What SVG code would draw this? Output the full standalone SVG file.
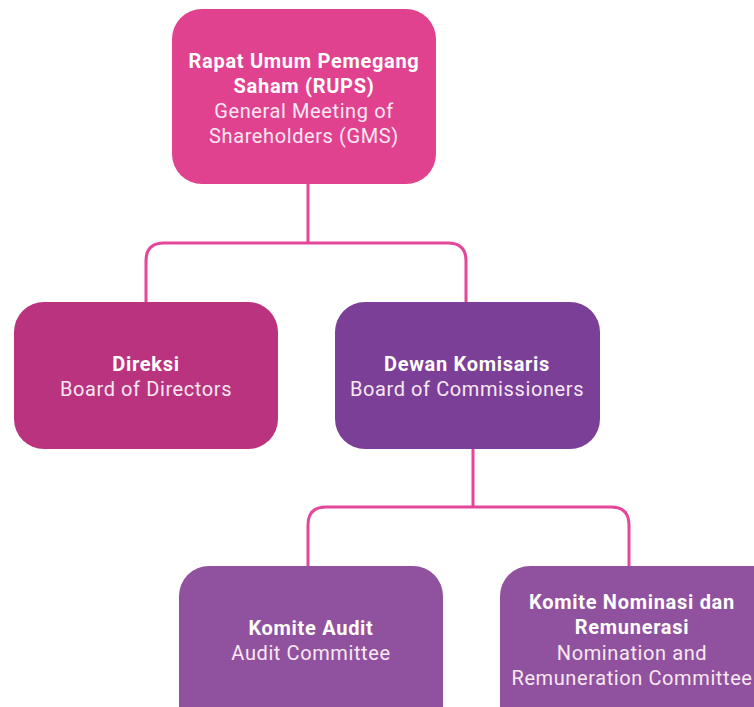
<svg xmlns="http://www.w3.org/2000/svg" width="754" height="707" viewBox="0 0 754 707">
<style>
.t{font-family:Roboto,"Liberation Sans",sans-serif;font-size:20px;text-anchor:middle}
.b{font-weight:bold;fill:#ffffff;letter-spacing:0.7px}
.r{fill:#f8e8f2;letter-spacing:0.6px}
.c{fill:none;stroke:#E4479A;stroke-width:3}
</style>
<rect width="754" height="707" fill="#ffffff"/>
<g id="connectors">
<path class="c" d="M308 184 V243 M146 303 V261 Q146 243 164 243 H448 Q466 243 466 261 V303"/>
<path class="c" d="M473 449 V507 M308 567 V525 Q308 507 326 507 H611 Q629 507 629 525 V567"/>
</g>
<g id="rups">
<rect x="172" y="9" width="264" height="175" rx="30" fill="#E1428F"/>
<text class="t b" x="304" y="68">Rapat Umum Pemegang</text>
<text class="t b" x="304" y="93">Saham (RUPS)</text>
<text class="t r" x="304" y="118">General Meeting of</text>
<text class="t r" x="304" y="143">Shareholders (GMS)</text>
</g>
<g id="direksi">
<rect x="14" y="302" width="264" height="147" rx="30" fill="#B9337F"/>
<text class="t b" x="146" y="371">Direksi</text>
<text class="t r" x="146" y="396">Board of Directors</text>
</g>
<g id="dewan">
<rect x="335" y="302" width="265" height="147" rx="30" fill="#7B3F98"/>
<text class="t b" x="467" y="371">Dewan Komisaris</text>
<text class="t r" x="467" y="396">Board of Commissioners</text>
</g>
<g id="audit">
<rect x="179" y="566" width="264" height="170" rx="30" fill="#90529E"/>
<text class="t b" x="311" y="635">Komite Audit</text>
<text class="t r" x="311" y="660">Audit Committee</text>
</g>
<g id="nominasi">
<rect x="500" y="566" width="290" height="170" rx="30" fill="#90529E"/>
<text class="t b" x="632" y="609">Komite Nominasi dan</text>
<text class="t b" x="632" y="634">Remunerasi</text>
<text class="t r" x="632" y="660">Nomination and</text>
<text class="t r" x="632" y="685">Remuneration Committee</text>
</g>
</svg>
